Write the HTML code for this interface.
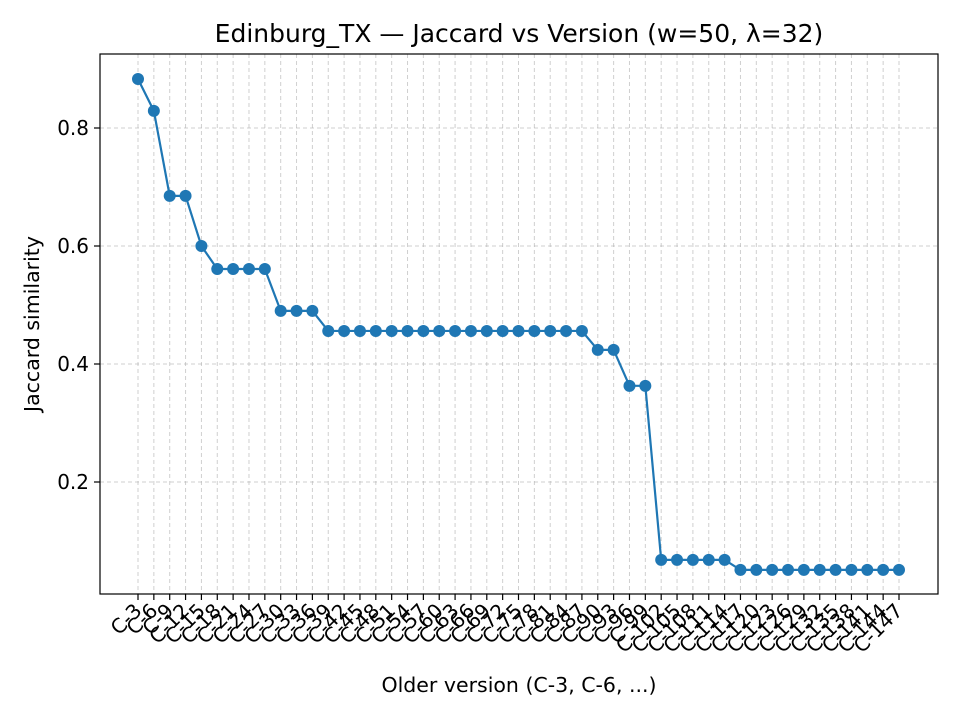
<!DOCTYPE html>
<html><head><meta charset="utf-8"><style>
body{margin:0;background:#fff;}
svg{display:block;font-family:"DejaVu Sans","Liberation Sans",sans-serif;}
</style></head><body>
<svg id="chart" width="960" height="720">
<rect width="960" height="720" fill="#fff"/>
<text x="519" y="42" text-anchor="middle" font-size="25" fill="#000">Edinburg_TX — Jaccard vs Version (w=50, λ=32)</text>
<g id="grid"></g>
<g id="yticks"></g>
<g id="xticks"></g>
<polyline id="line" fill="none" stroke="#1f77b4" stroke-width="2.2"/>
<g id="points"></g>
<rect x="100" y="54" width="838" height="540" fill="none" stroke="#000" stroke-width="1.2"/>
<text x="39" y="324" text-anchor="middle" font-size="20.5" transform="rotate(-90 39 324)">Jaccard similarity</text>
<text x="519" y="692" text-anchor="middle" font-size="20.5">Older version (C-3, C-6, ...)</text>
</svg>
<script>
const categories = Array.from({length:49},(_,i)=>'C-'+(3*(i+1)));
const values = [0.883,0.829,0.685,0.685,0.600,0.561,0.561,0.561,0.561,0.490,0.490,0.490,
0.456,0.456,0.456,0.456,0.456,0.456,0.456,0.456,0.456,0.456,0.456,0.456,0.456,0.456,0.456,0.456,0.456,
0.424,0.424,0.363,0.363,0.068,0.068,0.068,0.068,0.068,
0.051,0.051,0.051,0.051,0.051,0.051,0.051,0.051,0.051,0.051,0.051];
const yTicks = [0.2,0.4,0.6,0.8];
const yTickLabels = ['0.2','0.4','0.6','0.8'];

const NS='http://www.w3.org/2000/svg';
const xScale = i => 138 + i*(899-138)/(categories.length-1);
const yScale = v => 482 - (v-0.2)*590;
function mk(tag, attrs, parent){const e=document.createElementNS(NS,tag);for(const k in attrs)e.setAttribute(k,attrs[k]);parent.appendChild(e);return e;}
const grid=document.getElementById('grid'), yt=document.getElementById('yticks'), xt=document.getElementById('xticks'), pts=document.getElementById('points');
yTicks.forEach((t,i)=>{
  const y=yScale(t);
  const g=mk('line',{x1:100,x2:938,y1:y,y2:y,stroke:'#b0b0b0','stroke-width':1,'stroke-dasharray':'4,3',opacity:0.6},grid);
  
  
  const tk=mk('line',{x1:94,x2:100,y1:y,y2:y,stroke:'#000','stroke-width':1.2},yt);
  
  
  const tx=mk('text',{x:89,y:y+7,'text-anchor':'end','font-size':20},yt);
  tx.textContent=yTickLabels[i];
  
  
});
categories.forEach((c,i)=>{
  const x=xScale(i);
  const g=mk('line',{x1:x,x2:x,y1:54,y2:594,stroke:'#b0b0b0','stroke-width':1,'stroke-dasharray':'4,3',opacity:0.6},grid);
  
  
  const tk=mk('line',{x1:x,x2:x,y1:594,y2:600,stroke:'#000','stroke-width':1.2},xt);
  
  
  const tx=mk('text',{x:x+5,y:612,'text-anchor':'end','font-size':20,transform:`rotate(-45 ${x+5} 612)`},xt);
  tx.textContent=c;
  
  
});
document.getElementById('line').setAttribute('points',values.map((v,i)=>xScale(i)+','+yScale(v)).join(' '));
values.forEach((v,i)=>{
  const p=mk('circle',{cx:xScale(i),cy:yScale(v),r:6,fill:'#1f77b4'},pts);
  
  
});
</script>
</body></html>
